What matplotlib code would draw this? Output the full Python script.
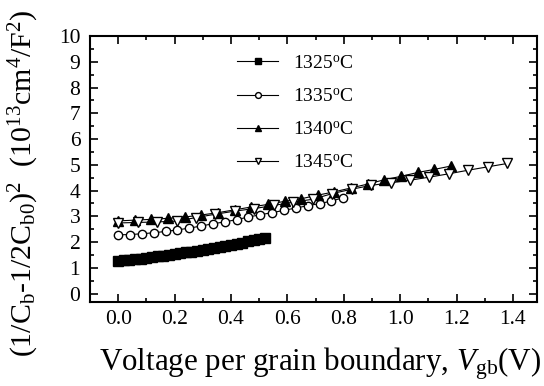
import matplotlib
matplotlib.use("Agg")
import matplotlib.pyplot as plt
import numpy as np
from matplotlib.ticker import MultipleLocator

plt.rcParams['font.family'] = ['Liberation Serif', 'DejaVu Serif']
plt.rcParams['mathtext.fontset'] = 'custom'
plt.rcParams['mathtext.rm'] = 'Liberation Serif'
plt.rcParams['mathtext.it'] = 'Liberation Serif:italic'

# ---- data ----
labels = ['1325$^{\\rm o}$C', '1335$^{\\rm o}$C', '1340$^{\\rm o}$C', '1345$^{\\rm o}$C']

x1325 = [0.00, 0.02, 0.04, 0.06, 0.08, 0.10, 0.12, 0.14, 0.16, 0.18, 0.20, 0.22, 0.24,
         0.26, 0.28, 0.30, 0.32, 0.34, 0.36, 0.38, 0.40, 0.42, 0.44, 0.46, 0.48, 0.50, 0.52]
y1325 = [1.27, 1.29, 1.31, 1.33, 1.35, 1.38, 1.41, 1.44, 1.47, 1.50, 1.53, 1.57, 1.60,
         1.63, 1.67, 1.70, 1.74, 1.77, 1.81, 1.85, 1.89, 1.93, 1.97, 2.02, 2.06, 2.11, 2.17]

x1335 = [0.000, 0.042, 0.084, 0.126, 0.168, 0.210, 0.252, 0.294, 0.336, 0.378,
         0.420, 0.462, 0.504, 0.546, 0.588, 0.630, 0.672, 0.714, 0.756, 0.798]
y1335 = [2.28, 2.29, 2.32, 2.36, 2.41, 2.47, 2.54, 2.62, 2.71, 2.78,
         2.87, 2.97, 3.06, 3.14, 3.23, 3.32, 3.41, 3.49, 3.59, 3.72]

x1340 = [0.000, 0.059, 0.118, 0.177, 0.236, 0.295, 0.354, 0.413, 0.472, 0.531, 0.590,
         0.649, 0.708, 0.767, 0.826, 0.885, 0.944, 1.003, 1.062, 1.121, 1.180]
y1340 = [2.82, 2.85, 2.88, 2.92, 2.97, 3.05, 3.14, 3.25, 3.36, 3.46, 3.58,
         3.68, 3.82, 3.95, 4.10, 4.25, 4.42, 4.55, 4.70, 4.82, 4.95]

x1345 = [0.000, 0.069, 0.138, 0.207, 0.276, 0.345, 0.414, 0.483, 0.552, 0.621, 0.690,
         0.759, 0.828, 0.897, 0.966, 1.035, 1.104, 1.173, 1.242, 1.311, 1.380]
y1345 = [2.74, 2.76, 2.78, 2.81, 2.95, 3.08, 3.20, 3.30, 3.42, 3.55, 3.66,
         3.88, 4.05, 4.20, 4.30, 4.40, 4.52, 4.65, 4.79, 4.92, 5.05]

fig = plt.figure(figsize=(5.44, 3.86), dpi=100)
ax = fig.add_axes([0.1654, 0.2176, 0.8216, 0.6891])

ax.plot(x1325, y1325, '-', color='black', lw=0.8, marker='s', ms=6.5,
        mfc='black', mec='black', label=labels[0])
ax.plot(x1335, y1335, '-', color='black', lw=0.8, marker='o', ms=6,
        mfc='white', mec='black', mew=1.0, label=labels[1])
ax.plot(x1340, y1340, '-', color='black', lw=0.8, marker='^', ms=7,
        mfc='black', mec='black', label=labels[2])
ax.plot(x1345, y1345, '-', color='black', lw=0.8, marker='v', ms=7,
        mfc='white', mec='black', mew=1.0, label=labels[3])

ax.set_xlim(-0.1, 1.485)
ax.set_ylim(-0.33, 10)
ax.xaxis.set_major_locator(MultipleLocator(0.2))
ax.xaxis.set_minor_locator(MultipleLocator(0.1))
ax.yaxis.set_major_locator(MultipleLocator(1))
ax.yaxis.set_minor_locator(MultipleLocator(0.5))
ax.set_xticks(np.arange(0, 1.41, 0.2))
ax.set_xticklabels(['0.0', '0.2', '0.4', '0.6', '0.8', '1.0', '1.2', '1.4'])
ax.tick_params(which='both', direction='in', top=True, right=True, labelsize=15.5, width=1.2)
ax.tick_params(which='major', length=6)
ax.tick_params(which='minor', length=3)
ax.tick_params(axis='x', pad=6)
ax.tick_params(axis='y', pad=7)
for s in ax.spines.values():
    s.set_linewidth(1.5)

ax.set_xlabel('Voltage per grain boundary, $V_{\\rm gb}$(V)', fontsize=22.3)
ax.xaxis.set_label_coords(0.516, -0.165)
ax.set_ylabel('(1/C$_{\\rm b}$-1/2C$_{\\rm b0}$)$^2$  (10$^{13}$cm$^4$/F$^2$)', fontsize=21.5)
ax.yaxis.set_label_coords(-0.11, 0.447)

leg = ax.legend(loc='upper left', bbox_to_anchor=(0.33, 0.93), frameon=False,
                fontsize=14, handlelength=2.1, handletextpad=0.75, labelspacing=0.8,
                borderpad=0, borderaxespad=0, markerscale=0.7)

fig.savefig('out.png', dpi=100)
